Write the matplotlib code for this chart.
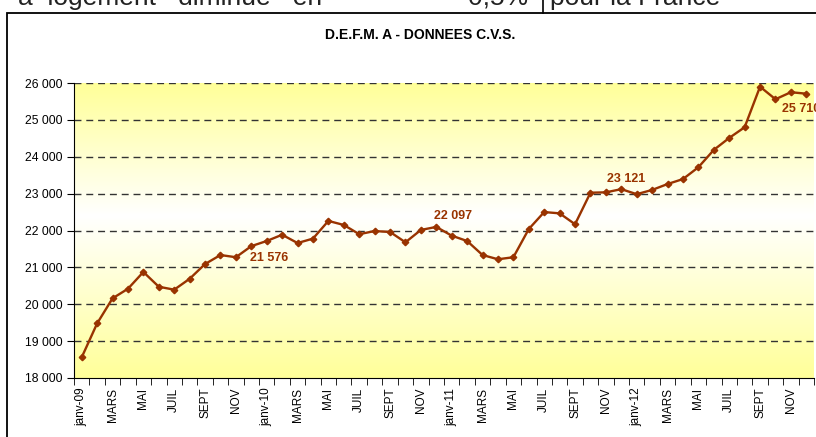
import numpy as np
import matplotlib
matplotlib.use("Agg")
import matplotlib.pyplot as plt
from matplotlib.patches import Rectangle
from matplotlib.colors import LinearSegmentedColormap

plt.rcParams['font.family'] = ['Liberation Sans', 'DejaVu Sans']

# monthly D.E.F.M. cat. A, janv-2009 .. dec-2012
months = ['janv-09', '', 'MARS', '', 'MAI', '', 'JUIL', '', 'SEPT', '', 'NOV', '',
          'janv-10', '', 'MARS', '', 'MAI', '', 'JUIL', '', 'SEPT', '', 'NOV', '',
          'janv-11', '', 'MARS', '', 'MAI', '', 'JUIL', '', 'SEPT', '', 'NOV', '',
          'janv-12', '', 'MARS', '', 'MAI', '', 'JUIL', '', 'SEPT', '', 'NOV', '']
defm = [18560, 19480, 20160, 20420, 20875, 20475, 20395, 20690, 21090, 21335, 21275, 21576,
        21715, 21885, 21660, 21780, 22260, 22150, 21900, 21985, 21960, 21680, 22015, 22097,
        21860, 21715, 21335, 21220, 21275, 22040, 22500, 22465, 22170, 23025, 23035, 23121,
        22985, 23100, 23260, 23395, 23715, 24185, 24510, 24800, 25900, 25560, 25750, 25710]
labelled = [11, 23, 35, 47]
label_offsets = [(18, -12), (17, 11), (5, 10), (-5, -15)]  # pixels

line_col = '#993300'

fig = plt.figure(figsize=(8.16, 4.37), dpi=100)

# fragment of the page text above the chart (cut off in the original)
fig.text(18 / 816, 1 - 5 / 437, 'a  logement   diminue   en', fontsize=19,
         color='#222222', va='baseline', ha='left')
fig.text(468 / 816, 1 - 5 / 437, '0,5%', fontsize=19,
         color='#222222', va='baseline', ha='left')
fig.text(550 / 816, 1 - 5 / 437, 'pour la France', fontsize=19,
         color='#222222', va='baseline', ha='left')
fig.add_artist(plt.Line2D([543 / 816, 543 / 816], [1, 1 - 13 / 437],
                          color='black', lw=1.2, transform=fig.transFigure))

# chart frame
fig.add_artist(Rectangle((7 / 816, -0.05), 1.0, 1 - 13 / 437 + 0.05,
                         transform=fig.transFigure, fill=False,
                         edgecolor='black', lw=1.3))

fig.text(420 / 816, 1 - 35 / 437, 'D.E.F.M. A - DONNEES C.V.S.',
         ha='center', va='center', fontsize=10, fontweight='bold')

ax = fig.add_axes([74 / 816, 1 - 378 / 437, 740 / 816, 295 / 437])

x = np.arange(len(defm))
ax.set_xlim(-0.5, len(defm) - 0.5)
ax.set_ylim(18000, 26000)

# yellow / white / yellow gradient background
cmap = LinearSegmentedColormap.from_list('bg', [(0, '#FFFF99'), (0.55, '#FFFFFF'), (1, '#FFFF99')])
grad = np.linspace(0, 1, 256).reshape(-1, 1)
ax.imshow(grad, cmap=cmap, aspect='auto', extent=(-0.5, len(defm) - 0.5, 18000, 26000),
          origin='lower', zorder=0)

for v in range(19000, 26001, 1000):
    ax.axhline(v, color='#333333', lw=1, dashes=(5, 3.5), zorder=1)

ax.plot(x, defm, color=line_col, lw=1.7, marker='D', markersize=3.3,
        markerfacecolor=line_col, markeredgecolor=line_col, zorder=3)

for i, (dx, dy) in zip(labelled, label_offsets):
    ax.annotate(f'{defm[i]:,}'.replace(',', ' '), (x[i], defm[i]),
                xytext=(dx, dy), textcoords='offset pixels',
                ha='center', va='center', fontsize=9, fontweight='bold',
                color=line_col, annotation_clip=False)

ax.set_yticks(range(18000, 26001, 1000))
ax.set_yticklabels([f'{v:,}'.replace(',', ' ') for v in range(18000, 26001, 1000)],
                   fontsize=8.7)
ax.set_xticks(x)
ax.set_xticklabels(months, rotation=90, fontsize=8.5)
ax.set_xticks(np.arange(-0.5, len(defm), 1), minor=True)
ax.tick_params(axis='x', which='major', length=0, pad=7)
ax.tick_params(axis='x', which='minor', length=5, direction='out')
ax.tick_params(axis='y', length=5, direction='out', pad=3)

for s in ['top', 'right']:
    ax.spines[s].set_visible(False)
ax.spines['left'].set_color('black')
ax.spines['bottom'].set_color('black')

fig.savefig('out.png', dpi=100)
